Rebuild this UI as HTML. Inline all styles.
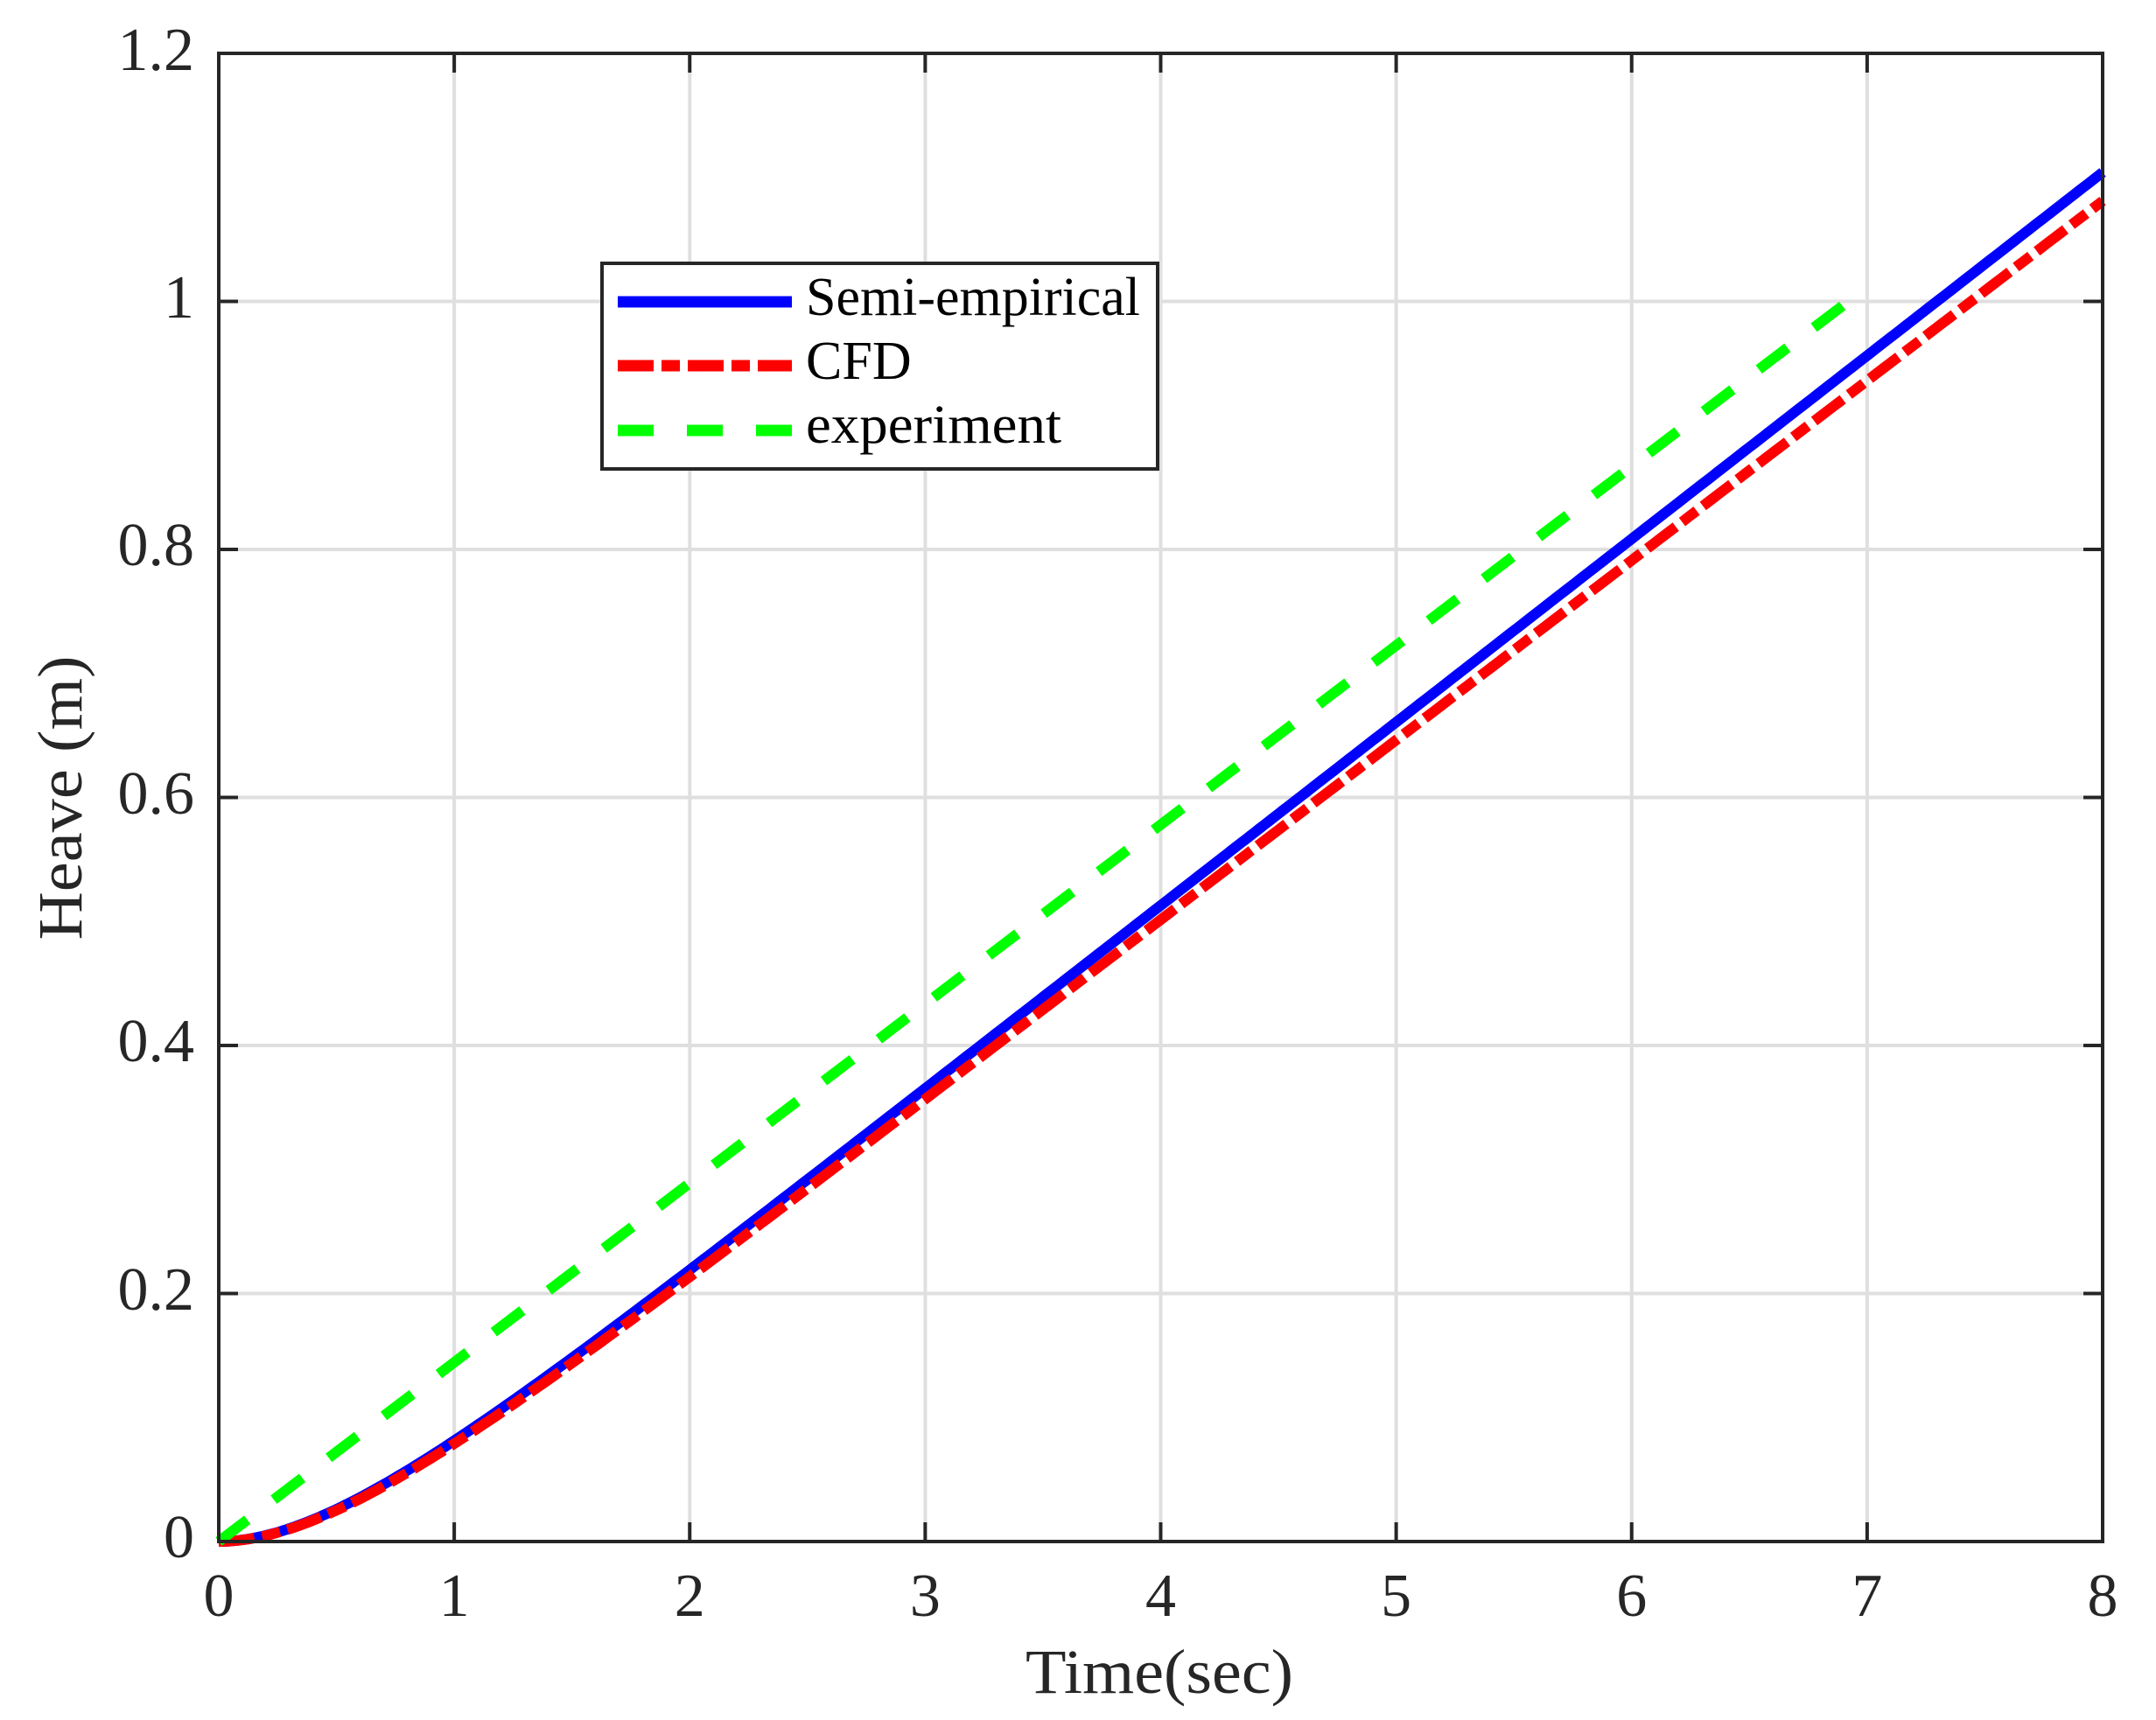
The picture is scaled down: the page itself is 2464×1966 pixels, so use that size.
<!DOCTYPE html>
<html><head><meta charset="utf-8"><style>
html,body{margin:0;padding:0;background:#fff;}
svg{display:block;}
text{font-family:"Liberation Serif",serif;fill:#262626;}
</style></head><body>
<svg id="s" width="2464" height="1966" viewBox="0 0 2464 1966" xmlns="http://www.w3.org/2000/svg">
<rect width="2464" height="1966" fill="#fff"/>
<g stroke="#dfdfdf" stroke-width="4">
<line x1="519.1" y1="61" x2="519.1" y2="1762"/>
<line x1="788.3" y1="61" x2="788.3" y2="1762"/>
<line x1="1057.4" y1="61" x2="1057.4" y2="1762"/>
<line x1="1326.5" y1="61" x2="1326.5" y2="1762"/>
<line x1="1595.6" y1="61" x2="1595.6" y2="1762"/>
<line x1="1864.8" y1="61" x2="1864.8" y2="1762"/>
<line x1="2133.9" y1="61" x2="2133.9" y2="1762"/>
<line x1="250" y1="1478.5" x2="2403" y2="1478.5"/>
<line x1="250" y1="1195" x2="2403" y2="1195"/>
<line x1="250" y1="911.5" x2="2403" y2="911.5"/>
<line x1="250" y1="628" x2="2403" y2="628"/>
<line x1="250" y1="344.5" x2="2403" y2="344.5"/>
</g>
<g id="ticks" stroke="#262626" stroke-width="4"></g>
<g fill="none" stroke-width="12">
<path id="pb" stroke="#0000ff"/>
<path id="pr" stroke="#ff0000" stroke-dasharray="41 9 21 9"/>
<path id="pg" stroke="#00ff00" stroke-dasharray="41 38"/>
</g>
<rect x="250" y="61" width="2153" height="1701" fill="none" stroke="#262626" stroke-width="4"/>
<g font-size="70" text-anchor="middle">
<text x="250" y="1847">0</text><text x="519.1" y="1847">1</text><text x="788.3" y="1847">2</text>
<text x="1057.4" y="1847">3</text><text x="1326.5" y="1847">4</text><text x="1595.6" y="1847">5</text>
<text x="1864.8" y="1847">6</text><text x="2133.9" y="1847">7</text><text x="2403" y="1847">8</text>
</g>
<g font-size="70" text-anchor="end">
<text x="222" y="1780">0</text><text x="222" y="1497">0.2</text><text x="222" y="1213">0.4</text>
<text x="222" y="930">0.6</text><text x="222" y="646">0.8</text><text x="222" y="363">1</text><text x="222" y="80">1.2</text>
</g>
<text x="1325" y="1935" font-size="72" text-anchor="middle" textLength="306" lengthAdjust="spacingAndGlyphs">Time(sec)</text>
<text transform="translate(93,912) rotate(-90)" font-size="72" text-anchor="middle" textLength="325" lengthAdjust="spacingAndGlyphs">Heave (m)</text>
<rect x="688" y="301" width="635" height="235" fill="#fff" stroke="#262626" stroke-width="4"/>
<line x1="706" y1="345" x2="905" y2="345" stroke="#0000ff" stroke-width="13"/>
<line x1="706" y1="418" x2="905" y2="418" stroke="#ff0000" stroke-width="13" stroke-dasharray="41 9 21 9"/>
<line x1="706" y1="492" x2="905" y2="492" stroke="#00ff00" stroke-width="13" stroke-dasharray="41 38"/>
<g font-size="62">
<text x="921" y="360" textLength="382" lengthAdjust="spacingAndGlyphs" style="fill:#000">Semi-empirical</text>
<text x="921" y="433" style="fill:#000">CFD</text>
<text x="921" y="506" textLength="292" lengthAdjust="spacingAndGlyphs" style="fill:#000">experiment</text>
</g>
</svg>
<script>
(function(){
var X=function(t){return 250+t*269.125;},Y=function(v){return 1762-v*1417.5;};
function curve(v,tau){var d="";for(var i=0;i<=400;i++){var t=8*i/400;var y=v*(t-tau*(1-Math.exp(-t/tau)));d+=(i?"L":"M")+X(t).toFixed(1)+" "+Y(y).toFixed(1);}return d;}
document.getElementById("pb").setAttribute("d",curve(0.1478,0.53));
document.getElementById("pr").setAttribute("d",curve(0.1449,0.54));
document.getElementById("pg").setAttribute("d","M"+X(0)+" "+Y(0)+"L"+X(6.92)+" "+Y(1.0));
var g=document.getElementById("ticks"),s="";
for(var i=1;i<8;i++){var x=X(i);s+='<line x1="'+x+'" y1="1762" x2="'+x+'" y2="1740"/><line x1="'+x+'" y1="61" x2="'+x+'" y2="83"/>';}
for(var j=1;j<6;j++){var y=Y(j*0.2);s+='<line x1="250" y1="'+y+'" x2="272" y2="'+y+'"/><line x1="2403" y1="'+y+'" x2="2381" y2="'+y+'"/>';}
g.innerHTML=s;
})();
</script>
</body></html>
